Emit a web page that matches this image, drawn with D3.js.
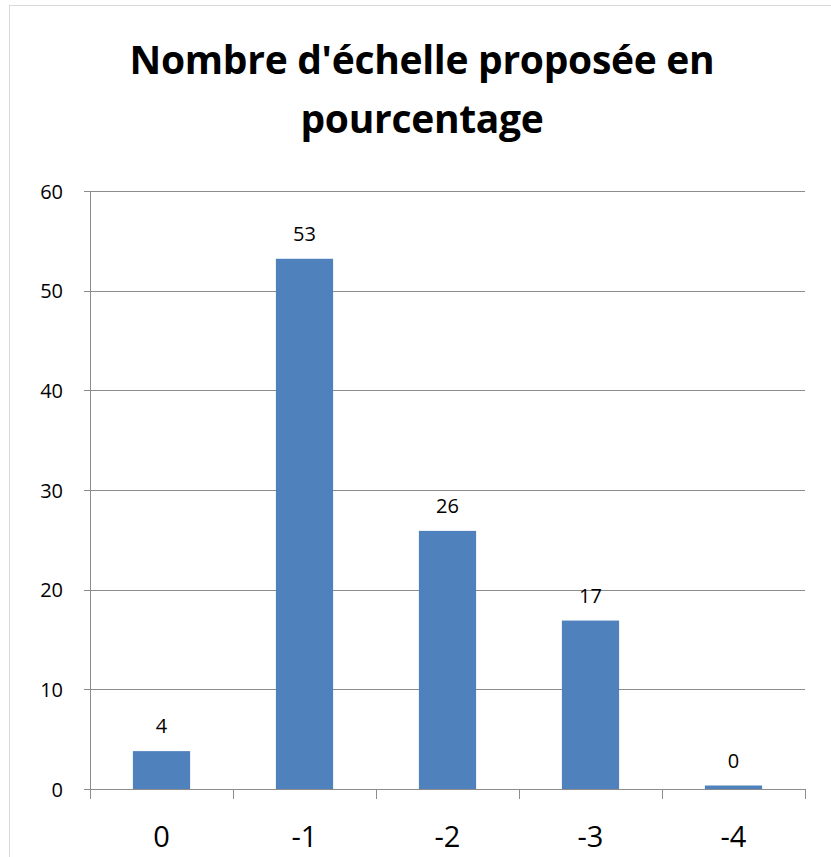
<!DOCTYPE html>
<html>
<head>
<meta charset="utf-8">
<script src="https://cdn.jsdelivr.net/npm/d3@7"></script>
<style>
  body { margin: 0; background: #fff; }
  text { font-family: "Open Sans", "Liberation Sans", sans-serif; fill: #000; }
</style>
</head>
<body>
<script>
// categories and values
var categories = ['0', '-1', '-2', '-3', '-4'];
var values = [3.8, 53.2, 25.9, 16.9, 0.35];
var valueLabels = ['4', '53', '26', '17', '0'];
var yTicks = [0, 10, 20, 30, 40, 50, 60];
var titleLines = ["Nombre d'échelle proposée en", 'pourcentage'];

var svgWidth = 831, svgHeight = 857;
var plotLeft = 90, plotRight = 805, plotTop = 191, plotBottom = 789;

var svg = d3.select('body').append('svg')
	.attr('width', svgWidth)
	.attr('height', svgHeight);

// chart border
svg.append('rect')
	.attr('x', 9.5).attr('y', 5.5)
	.attr('width', 840).attr('height', 870)
	.attr('fill', 'none')
	.attr('stroke', '#d9d9d9');

svg.selectAll('.title')
	.data(titleLines)
	.enter()
	.append('text')
	.attr('class', 'title')
	.attr('x', 422)
	.attr('y', function(d, i) { return 74 + i * 59; })
	.attr('text-anchor', 'middle')
	.style('font-weight', 'bold')
	.style('font-size', '39px')
	.style('letter-spacing', '-0.3px')
	.text(function(d) { return d; });

var x = d3.scaleBand()
	.domain(categories)
	.range([plotLeft, plotRight])
	.paddingInner(0.6)
	.paddingOuter(0.3);

var y = d3.scaleLinear()
	.domain([0, 60])
	.range([plotBottom, plotTop]);

// gridlines
svg.selectAll('.grid')
	.data(yTicks)
	.enter()
	.append('line')
	.attr('x1', plotLeft - 6)
	.attr('x2', plotRight)
	.attr('y1', function(d) { return Math.round(y(d)) + 0.5; })
	.attr('y2', function(d) { return Math.round(y(d)) + 0.5; })
	.attr('stroke', '#8c8c8c')
	.attr('stroke-width', 1);

// y axis line
svg.append('line')
	.attr('x1', plotLeft + 0.5).attr('x2', plotLeft + 0.5)
	.attr('y1', plotTop).attr('y2', plotBottom + 10)
	.attr('stroke', '#8c8c8c');

// x ticks at category boundaries
var step = x.step();
svg.selectAll('.xtick')
	.data(d3.range(categories.length + 1))
	.enter()
	.append('line')
	.attr('x1', function(d) { return Math.round(plotLeft + d * step) + 0.5; })
	.attr('x2', function(d) { return Math.round(plotLeft + d * step) + 0.5; })
	.attr('y1', plotBottom)
	.attr('y2', plotBottom + 10)
	.attr('stroke', '#8c8c8c');

svg.selectAll('.ylabel')
	.data(yTicks)
	.enter()
	.append('text')
	.attr('x', 63)
	.attr('y', function(d) { return y(d) + 7.5; })
	.attr('text-anchor', 'end')
	.style('font-size', '20px')
	.text(function(d) { return d; });

svg.selectAll('.bar')
	.data(values)
	.enter()
	.append('rect')
	.attr('x', function(d, i) { return x(categories[i]); })
	.attr('width', x.bandwidth())
	.attr('y', function(d) { return y(d); })
	.attr('height', function(d) { return plotBottom - y(d); })
	.attr('fill', '#4f81bd');

svg.selectAll('.vlabel')
	.data(values)
	.enter()
	.append('text')
	.attr('x', function(d, i) { return x(categories[i]) + x.bandwidth() / 2; })
	.attr('y', function(d) { return y(d) - 18; })
	.attr('text-anchor', 'middle')
	.style('font-size', '20px')
	.text(function(d, i) { return valueLabels[i]; });

svg.selectAll('.xlabel')
	.data(categories)
	.enter()
	.append('text')
	.attr('x', function(d) { return x(d) + x.bandwidth() / 2; })
	.attr('y', 847)
	.attr('text-anchor', 'middle')
	.style('font-size', '29px')
	.text(function(d) { return d; });
</script>
</body>
</html>
